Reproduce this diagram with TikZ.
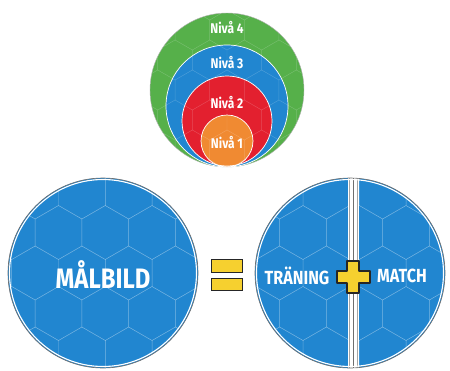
\documentclass[tikz,border=0pt]{standalone}
\usepackage{fontspec}
\newfontfamily\signfont[FakeStretch=0.85]{Fira Sans}
\definecolor{ballblue}{HTML}{2186D0}
\definecolor{levelgreen}{HTML}{56B04A}
\definecolor{levelred}{HTML}{E3202F}
\definecolor{levelorange}{HTML}{F08A32}
\definecolor{signyellow}{HTML}{F6D02F}
\definecolor{rimgray}{HTML}{6E6E6E}

\tikzset{
  hexline/.style={draw=white, opacity=0.22, line width=0.7pt},
  ring/.style={draw=white, line width=1.6pt},
  rim/.style={draw=rimgray, line width=0.9pt},
  signtext/.style={text=white, inner sep=0pt, font=\signfont\bfseries},
  leveltext/.style={text=white, inner sep=0pt, font=\fontsize{20}{20}\signfont\bfseries},
  yellowbar/.style={fill=signyellow, draw=black!85, line width=1.4pt},
}

% hexagon tiling round a point: #1 x, #2 y, #3 side
\newcommand{\hexgrid}[3]{%
  \foreach \i in {-5,...,5}{
    \foreach \j in {-4,...,4}{
      \pgfmathsetmacro\hx{#1+(\i+0.5*abs(mod(\j,2)))*#3*1.732}
      \pgfmathsetmacro\hy{#2+\j*#3*1.5}
      \draw[hexline] (\hx,\hy) +(30:#3) -- +(90:#3) -- +(150:#3)
        -- +(210:#3) -- +(270:#3) -- +(330:#3) -- cycle;
    }
  }
}

\begin{document}
\begin{tikzpicture}[x=0.05cm, y=-0.05cm]
  \useasboundingbox (0,0) rectangle (450,370);

  % levels
  \coordinate (lv4) at (227,90);
  \coordinate (lv3) at (227,106);
  \coordinate (lv2) at (227,121);
  \coordinate (lv1) at (227,141);
  \fill[levelgreen] (lv4) circle [radius=77];
  \fill[ballblue] (lv3) circle [radius=61];
  \fill[levelred] (lv2) circle [radius=45];
  \fill[levelorange] (lv1) circle [radius=26];
  \begin{scope}[hexline/.append style={opacity=0.1}]
    \clip (lv4) circle [radius=77];
    \hexgrid{227}{90}{20}
  \end{scope}
  \draw[draw=gray!60, line width=0.6pt] (lv4) circle [radius=77];
  \draw[draw=white, line width=1pt] (lv3) circle [radius=61];
  \draw[draw=white, line width=1pt] (lv2) circle [radius=45];
  \draw[draw=white, line width=1pt] (lv1) circle [radius=26];
  \node[leveltext] (n4) at (227,28) {Nivå 4};
  \node[leveltext] (n3) at (227,63) {Nivå 3};
  \node[leveltext] (n2) at (227,103) {Nivå 2};
  \node[leveltext] (n1) at (227,143) {Nivå 1};

  % left ball
  \coordinate (goal) at (103,273);
  \fill[ballblue] (goal) circle [radius=95];
  \begin{scope}
    \clip (goal) circle [radius=95];
    \hexgrid{58.5}{232.5}{27}
  \end{scope}
  \draw[ring] (goal) circle [radius=93.5];
  \draw[rim] (goal) circle [radius=95];
  \node[signtext, font=\fontsize{40}{40}\signfont\bfseries] (malbild) at (103,275) {MÅLBILD};

  % equals sign
  \draw[yellowbar] (211,259) rectangle (242,272);
  \draw[yellowbar] (211,278) rectangle (242,290);

  % right ball, split in two
  \coordinate (sum) at (350,273);
  \fill[ballblue] (sum) circle [radius=95];
  \begin{scope}
    \clip (sum) circle [radius=95];
    \begin{scope}
      \clip (250,170) rectangle (353,380);
      \hexgrid{303}{232.5}{27}
    \end{scope}
    \begin{scope}
      \clip (353,170) rectangle (450,380);
      \hexgrid{406}{232.5}{27}
    \end{scope}
    \fill[white] (347.5,170) rectangle (358.5,380);
    \draw[draw=gray!70, line width=0.6pt] (349,170) -- (349,380);
    \draw[draw=gray!70, line width=0.6pt] (357,170) -- (357,380);
    \draw[draw=rimgray, line width=1.2pt] (353,170) -- (353,380);
  \end{scope}
  \draw[ring] (sum) circle [radius=93.5];
  \draw[rim] (sum) circle [radius=95];
  \node[signtext, font=\fontsize{27}{27}\signfont\bfseries] (training) at (297,276) {TRÄNING};
  \node[signtext, font=\fontsize{27}{27}\signfont\bfseries] (match) at (402,276) {MATCH};

  % plus sign
  \draw[yellowbar, line width=1.5pt, line join=round]
    (347,261) -- (359,261) -- (359,271) -- (370,271) -- (370,283)
    -- (359,283) -- (359,293) -- (347,293) -- (347,283) -- (337,283)
    -- (337,271) -- (347,271) -- cycle;
\end{tikzpicture}
\end{document}
